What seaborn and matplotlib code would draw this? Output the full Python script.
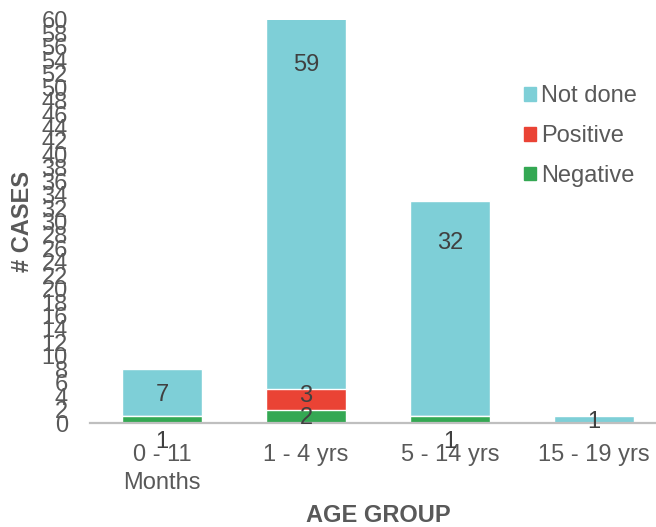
import matplotlib
matplotlib.use('Agg')
import matplotlib.pyplot as plt
import seaborn as sns
import numpy as np
from matplotlib.patches import Patch

# Données
age_groups = ['0 - 11\nMonths', '1 - 4 yrs', '5 - 14 yrs', '15 - 19 yrs']
negative = [1, 2, 1, 0]
positive = [0, 3, 0, 0]
not_done = [7, 59, 32, 1]

# Position verticale des étiquettes telle qu'affichée (unités des données)
neg_label_y = [-2.8, 0.75, -2.8, None]
pos_label_y = [None, 4.0, None, None]
nd_label_y = [4.2, 53.3, 26.8, 0.15]

c_nd = '#7ECFD7'
c_pos = '#EA4335'
c_neg = '#34A853'

sns.set_theme(style='white')
plt.rcParams['font.family'] = ['Liberation Sans', 'DejaVu Sans']

fig = plt.figure(figsize=(6.56, 5.27), dpi=100)
ax = fig.add_axes([90 / 656, 1 - 423 / 527, 576 / 656, 403 / 527])

neg = np.array(negative)
pos_cum = neg + np.array(positive)
tot = pos_cum + np.array(not_done)

# Barres empilées : on dessine les cumuls du plus grand au plus petit
sns.barplot(x=age_groups, y=tot, color=c_nd, width=0.556, saturation=1, ax=ax)
sns.barplot(x=age_groups, y=pos_cum, color=c_pos, width=0.556, saturation=1, ax=ax)
sns.barplot(x=age_groups, y=neg, color=c_neg, width=0.556, saturation=1, ax=ax)

ax.set_ylim(0, 60)
ax.set_xlim(-0.5, 3.5)
ax.set_yticks(range(0, 61, 2))

label_color = '#404040'
for vals, ys in [(negative, neg_label_y), (positive, pos_label_y), (not_done, nd_label_y)]:
    for i, (v, y) in enumerate(zip(vals, ys)):
        if y is None:
            continue
        ax.text(i, y, str(v), ha='center', va='center', fontsize=17,
                color=label_color, clip_on=False)

for s in ['top', 'right', 'left']:
    ax.spines[s].set_visible(False)
ax.spines['bottom'].set_color('#BFBFBF')
ax.spines['bottom'].set_linewidth(1.6)

ax.tick_params(axis='both', length=0, labelsize=17, labelcolor='#595959')
ax.tick_params(axis='y', pad=16)
ax.tick_params(axis='x', pad=15)
for t in ax.get_xticklabels():
    t.set_linespacing(1.35)

ax.set_xlabel('AGE GROUP', fontsize=17, fontweight='bold', color='#595959', labelpad=7)
ax.set_ylabel('# CASES', fontsize=17, fontweight='bold', color='#595959', labelpad=5)

handles = [Patch(color=c_nd, label='Not done'),
           Patch(color=c_pos, label='Positive'),
           Patch(color=c_neg, label='Negative')]
fig.legend(handles=handles, loc='upper left', bbox_to_anchor=(515 / 656, 1 - 76 / 527),
           frameon=False, fontsize=17, labelcolor='#595959', handlelength=0.5,
           handleheight=0.5, handletextpad=0.2, labelspacing=0.75, borderaxespad=0)

plt.savefig('out.png', dpi=100)
